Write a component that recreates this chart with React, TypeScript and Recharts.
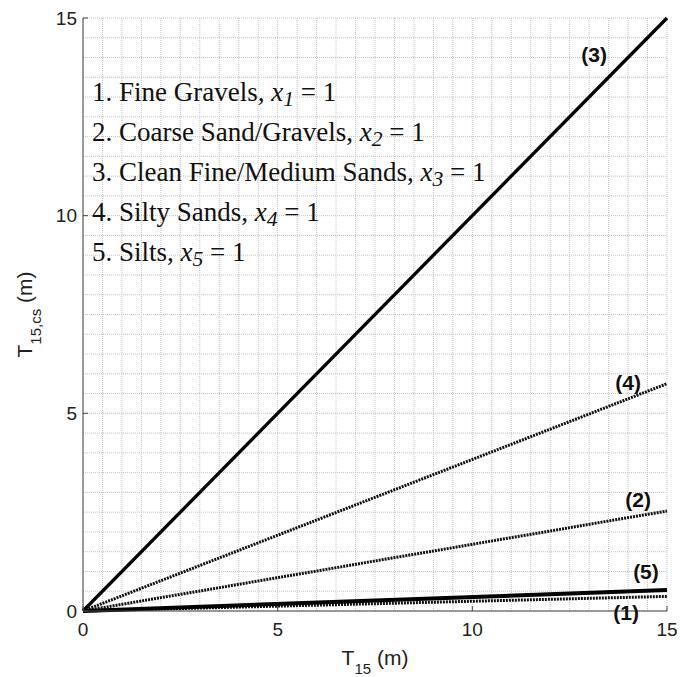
import {
  LineChart,
  Line,
  XAxis,
  YAxis,
  CartesianGrid,
  ReferenceDot,
  Label,
} from "recharts";

// T15 (m), x positions of the two end points of each straight line
const t15 = [0, 15];

// T15,cs (m) for each soil class at those points
const fineGravels = [0, 0.37];
const coarseSand = [0, 2.53];
const cleanSands = [0, 15];
const siltySands = [0, 5.75];
const silts = [0, 0.53];

const axisTicks = [0, 5, 10, 15];
const gridTicks = [
  0, 0.5, 1, 1.5, 2, 2.5, 3, 3.5, 4, 4.5, 5, 5.5, 6, 6.5, 7, 7.5, 8, 8.5, 9,
  9.5, 10, 10.5, 11, 11.5, 12, 12.5, 13, 13.5, 14, 14.5, 15,
];

// curve tags and where they sit (data units)
const tagNames = ["(3)", "(4)", "(2)", "(5)", "(1)"];
const tagX = [13.13, 14.0, 14.26, 14.46, 13.95];
const tagY = [14.07, 5.77, 2.83, 0.99, -0.03];

const legendNames = [
  "Fine Gravels",
  "Coarse Sand/Gravels",
  "Clean Fine/Medium Sands",
  "Silty Sands",
  "Silts",
];

const data = t15.map((t, i) => ({
  t,
  fine: fineGravels[i],
  coarse: coarseSand[i],
  clean: cleanSands[i],
  silty: siltySands[i],
  silts: silts[i],
}));

const sans = "'Liberation Sans', Arial, sans-serif";
const serif = "'Liberation Serif', 'Times New Roman', serif";

const XTitle = ({ viewBox }: any) => {
  const cx = viewBox.x + viewBox.width / 2;
  const by = viewBox.y + 54;
  return (
    <text x={cx} y={by} textAnchor="middle" fontFamily={sans} fontSize={21} fill="#222">
      T
      <tspan fontSize={15} dy={9}>
        15
      </tspan>
      <tspan dy={-9}> (m)</tspan>
    </text>
  );
};

const YTitle = ({ viewBox }: any) => {
  const bx = viewBox.x + 9;
  const cy = viewBox.y + viewBox.height / 2;
  return (
    <text
      x={bx}
      y={cy}
      textAnchor="middle"
      fontFamily={sans}
      fontSize={21}
      fill="#222"
      transform={`rotate(-90, ${bx}, ${cy})`}
    >
      T
      <tspan fontSize={15} dy={9}>
        15,cs
      </tspan>
      <tspan dy={-9}> (m)</tspan>
    </text>
  );
};

export default function App() {
  return (
    <div style={{ position: "absolute", left: 0, top: 0, width: 680, height: 677, background: "#fff" }}>
      <LineChart
        width={680}
        height={677}
        data={data}
        margin={{ top: 18, right: 13, left: 23, bottom: 26 }}
      >
        <CartesianGrid
          stroke="#c4c4c4"
          strokeDasharray="1 1"
          verticalValues={gridTicks}
          horizontalValues={gridTicks}
        />
        <XAxis
          dataKey="t"
          type="number"
          domain={[0, 15]}
          ticks={axisTicks}
          interval={0}
          height={40}
          stroke="#444"
          tickSize={-5}
          tickMargin={17}
          tick={{ fill: "#222", fontSize: 19, fontFamily: sans }}
        >
          <Label content={<XTitle />} />
        </XAxis>
        <YAxis
          type="number"
          domain={[0, 15]}
          ticks={axisTicks}
          interval={0}
          width={60}
          stroke="#444"
          tickSize={-5}
          tickMargin={11}
          tick={{ fill: "#222", fontSize: 19, fontFamily: sans }}
        >
          <Label content={<YTitle />} />
        </YAxis>
        <Line dataKey="clean" stroke="#000" strokeWidth={3.3} dot={false} isAnimationActive={false} />
        <Line dataKey="silty" stroke="#111" strokeWidth={3} strokeDasharray="2 1" dot={false} isAnimationActive={false} />
        <Line dataKey="coarse" stroke="#111" strokeWidth={3} strokeDasharray="2 1" dot={false} isAnimationActive={false} />
        <Line dataKey="fine" stroke="#111" strokeWidth={3} strokeDasharray="2 1" dot={false} isAnimationActive={false} />
        <Line dataKey="silts" stroke="#000" strokeWidth={4} dot={false} isAnimationActive={false} />
        {tagNames.map((name, i) => (
          <ReferenceDot
            key={name}
            x={tagX[i]}
            y={tagY[i]}
            r={0}
            fill="none"
            stroke="none"
            ifOverflow="visible"
            label={{
              value: name,
              position: "center",
              fontSize: 21,
              fontWeight: "bold",
              fontFamily: sans,
              fill: "#111",
            }}
          />
        ))}
      </LineChart>
      <div
        style={{
          position: "absolute",
          left: 92,
          top: 72,
          fontFamily: serif,
          fontSize: 27,
          lineHeight: "40px",
          color: "#111",
          whiteSpace: "nowrap",
          pointerEvents: "none",
        }}
      >
        {legendNames.map((name, i) => (
          <div key={name}>
            {i + 1}. {name}, <i>x</i>
            <i style={{ fontSize: "0.8em", verticalAlign: "-0.25em", lineHeight: 0 }}>{i + 1}</i> = 1
          </div>
        ))}
      </div>
    </div>
  );
}
